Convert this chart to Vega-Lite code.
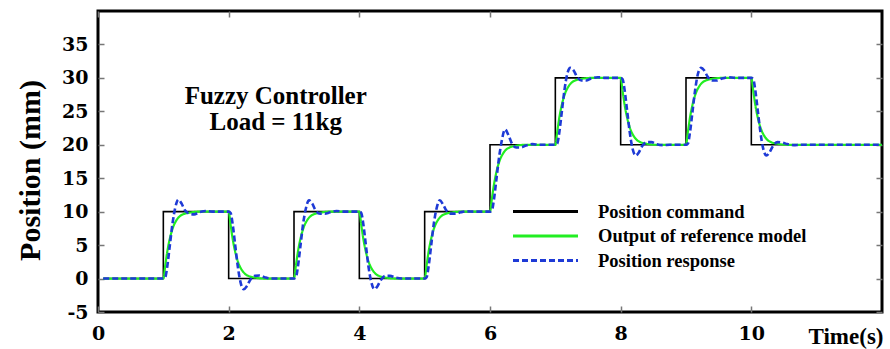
{
  "$schema": "https://vega.github.io/schema/vega-lite/v6.json",
  "width": 784,
  "height": 301,
  "autosize": {"type": "none"},
  "padding": {"left": 98, "top": 11, "right": 8, "bottom": 37},
  "background": "white",
  "config": {"view": {"stroke": "#000", "strokeWidth": 3}},
  "datasets": {
    "cmd": [
      {"t": 0.08, "v": 0, "series": "Position command"},
      {"t": 1, "v": 10, "series": "Position command"},
      {"t": 2, "v": 0, "series": "Position command"},
      {"t": 3, "v": 10, "series": "Position command"},
      {"t": 4, "v": 0, "series": "Position command"},
      {"t": 5, "v": 10, "series": "Position command"},
      {"t": 6, "v": 20, "series": "Position command"},
      {"t": 7, "v": 30, "series": "Position command"},
      {"t": 8, "v": 20, "series": "Position command"},
      {"t": 9, "v": 30, "series": "Position command"},
      {"t": 10, "v": 20, "series": "Position command"},
      {"t": 12, "v": 20, "series": "Position command"}
    ],
    "ref": [
      {"t": 0.08, "v": 0, "series": "Output of reference model"},
      {"t": 1, "v": 0, "series": "Output of reference model"},
      {"t": 1.03, "v": 2, "series": "Output of reference model"},
      {"t": 1.06, "v": 4, "series": "Output of reference model"},
      {"t": 1.1, "v": 6, "series": "Output of reference model"},
      {"t": 1.15, "v": 7.7, "series": "Output of reference model"},
      {"t": 1.2, "v": 8.7, "series": "Output of reference model"},
      {"t": 1.25, "v": 9.3, "series": "Output of reference model"},
      {"t": 1.3, "v": 9.6, "series": "Output of reference model"},
      {"t": 1.4, "v": 9.85, "series": "Output of reference model"},
      {"t": 1.55, "v": 10, "series": "Output of reference model"},
      {"t": 2, "v": 10, "series": "Output of reference model"},
      {"t": 2.03, "v": 8, "series": "Output of reference model"},
      {"t": 2.06, "v": 6, "series": "Output of reference model"},
      {"t": 2.1, "v": 4, "series": "Output of reference model"},
      {"t": 2.15, "v": 2.3, "series": "Output of reference model"},
      {"t": 2.2, "v": 1.3, "series": "Output of reference model"},
      {"t": 2.25, "v": 0.7, "series": "Output of reference model"},
      {"t": 2.3, "v": 0.4, "series": "Output of reference model"},
      {"t": 2.4, "v": 0.15, "series": "Output of reference model"},
      {"t": 2.55, "v": 0, "series": "Output of reference model"},
      {"t": 3, "v": 0, "series": "Output of reference model"},
      {"t": 3.03, "v": 2, "series": "Output of reference model"},
      {"t": 3.06, "v": 4, "series": "Output of reference model"},
      {"t": 3.1, "v": 6, "series": "Output of reference model"},
      {"t": 3.15, "v": 7.7, "series": "Output of reference model"},
      {"t": 3.2, "v": 8.7, "series": "Output of reference model"},
      {"t": 3.25, "v": 9.3, "series": "Output of reference model"},
      {"t": 3.3, "v": 9.6, "series": "Output of reference model"},
      {"t": 3.4, "v": 9.85, "series": "Output of reference model"},
      {"t": 3.55, "v": 10, "series": "Output of reference model"},
      {"t": 4, "v": 10, "series": "Output of reference model"},
      {"t": 4.03, "v": 8, "series": "Output of reference model"},
      {"t": 4.06, "v": 6, "series": "Output of reference model"},
      {"t": 4.1, "v": 4, "series": "Output of reference model"},
      {"t": 4.15, "v": 2.3, "series": "Output of reference model"},
      {"t": 4.2, "v": 1.3, "series": "Output of reference model"},
      {"t": 4.25, "v": 0.7, "series": "Output of reference model"},
      {"t": 4.3, "v": 0.4, "series": "Output of reference model"},
      {"t": 4.4, "v": 0.15, "series": "Output of reference model"},
      {"t": 4.55, "v": 0, "series": "Output of reference model"},
      {"t": 5, "v": 0, "series": "Output of reference model"},
      {"t": 5.03, "v": 2, "series": "Output of reference model"},
      {"t": 5.06, "v": 4, "series": "Output of reference model"},
      {"t": 5.1, "v": 6, "series": "Output of reference model"},
      {"t": 5.15, "v": 7.7, "series": "Output of reference model"},
      {"t": 5.2, "v": 8.7, "series": "Output of reference model"},
      {"t": 5.25, "v": 9.3, "series": "Output of reference model"},
      {"t": 5.3, "v": 9.6, "series": "Output of reference model"},
      {"t": 5.4, "v": 9.85, "series": "Output of reference model"},
      {"t": 5.55, "v": 10, "series": "Output of reference model"},
      {"t": 6, "v": 10, "series": "Output of reference model"},
      {"t": 6.03, "v": 12, "series": "Output of reference model"},
      {"t": 6.06, "v": 14, "series": "Output of reference model"},
      {"t": 6.1, "v": 16, "series": "Output of reference model"},
      {"t": 6.15, "v": 17.7, "series": "Output of reference model"},
      {"t": 6.2, "v": 18.7, "series": "Output of reference model"},
      {"t": 6.25, "v": 19.3, "series": "Output of reference model"},
      {"t": 6.3, "v": 19.6, "series": "Output of reference model"},
      {"t": 6.4, "v": 19.85, "series": "Output of reference model"},
      {"t": 6.55, "v": 20, "series": "Output of reference model"},
      {"t": 7, "v": 20, "series": "Output of reference model"},
      {"t": 7.03, "v": 22, "series": "Output of reference model"},
      {"t": 7.06, "v": 24, "series": "Output of reference model"},
      {"t": 7.1, "v": 26, "series": "Output of reference model"},
      {"t": 7.15, "v": 27.7, "series": "Output of reference model"},
      {"t": 7.2, "v": 28.7, "series": "Output of reference model"},
      {"t": 7.25, "v": 29.3, "series": "Output of reference model"},
      {"t": 7.3, "v": 29.6, "series": "Output of reference model"},
      {"t": 7.4, "v": 29.85, "series": "Output of reference model"},
      {"t": 7.55, "v": 30, "series": "Output of reference model"},
      {"t": 8, "v": 30, "series": "Output of reference model"},
      {"t": 8.03, "v": 28, "series": "Output of reference model"},
      {"t": 8.06, "v": 26, "series": "Output of reference model"},
      {"t": 8.1, "v": 24, "series": "Output of reference model"},
      {"t": 8.15, "v": 22.3, "series": "Output of reference model"},
      {"t": 8.2, "v": 21.3, "series": "Output of reference model"},
      {"t": 8.25, "v": 20.7, "series": "Output of reference model"},
      {"t": 8.3, "v": 20.4, "series": "Output of reference model"},
      {"t": 8.4, "v": 20.15, "series": "Output of reference model"},
      {"t": 8.55, "v": 20, "series": "Output of reference model"},
      {"t": 9, "v": 20, "series": "Output of reference model"},
      {"t": 9.03, "v": 22, "series": "Output of reference model"},
      {"t": 9.06, "v": 24, "series": "Output of reference model"},
      {"t": 9.1, "v": 26, "series": "Output of reference model"},
      {"t": 9.15, "v": 27.7, "series": "Output of reference model"},
      {"t": 9.2, "v": 28.7, "series": "Output of reference model"},
      {"t": 9.25, "v": 29.3, "series": "Output of reference model"},
      {"t": 9.3, "v": 29.6, "series": "Output of reference model"},
      {"t": 9.4, "v": 29.85, "series": "Output of reference model"},
      {"t": 9.55, "v": 30, "series": "Output of reference model"},
      {"t": 10, "v": 30, "series": "Output of reference model"},
      {"t": 10.03, "v": 28, "series": "Output of reference model"},
      {"t": 10.06, "v": 26, "series": "Output of reference model"},
      {"t": 10.1, "v": 24, "series": "Output of reference model"},
      {"t": 10.15, "v": 22.3, "series": "Output of reference model"},
      {"t": 10.2, "v": 21.3, "series": "Output of reference model"},
      {"t": 10.25, "v": 20.7, "series": "Output of reference model"},
      {"t": 10.3, "v": 20.4, "series": "Output of reference model"},
      {"t": 10.4, "v": 20.15, "series": "Output of reference model"},
      {"t": 10.55, "v": 20, "series": "Output of reference model"},
      {"t": 12, "v": 20, "series": "Output of reference model"}
    ],
    "resp": [
      {"t": 0.08, "v": 0, "series": "Position response"},
      {"t": 1, "v": 0, "series": "Position response"},
      {"t": 1.03, "v": 0.2, "series": "Position response"},
      {"t": 1.06, "v": 1.8, "series": "Position response"},
      {"t": 1.1, "v": 5, "series": "Position response"},
      {"t": 1.14, "v": 8.2, "series": "Position response"},
      {"t": 1.18, "v": 10.5, "series": "Position response"},
      {"t": 1.23, "v": 11.8, "series": "Position response"},
      {"t": 1.28, "v": 11.2, "series": "Position response"},
      {"t": 1.33, "v": 10.2, "series": "Position response"},
      {"t": 1.4, "v": 9.7, "series": "Position response"},
      {"t": 1.47, "v": 9.6, "series": "Position response"},
      {"t": 1.55, "v": 9.9, "series": "Position response"},
      {"t": 1.65, "v": 10.1, "series": "Position response"},
      {"t": 1.75, "v": 10, "series": "Position response"},
      {"t": 2, "v": 10, "series": "Position response"},
      {"t": 2.03, "v": 9.8, "series": "Position response"},
      {"t": 2.06, "v": 8.2, "series": "Position response"},
      {"t": 2.1, "v": 5, "series": "Position response"},
      {"t": 2.14, "v": 1.8, "series": "Position response"},
      {"t": 2.18, "v": -0.5, "series": "Position response"},
      {"t": 2.23, "v": -1.6, "series": "Position response"},
      {"t": 2.28, "v": -1.1, "series": "Position response"},
      {"t": 2.33, "v": -0.2, "series": "Position response"},
      {"t": 2.4, "v": 0.4, "series": "Position response"},
      {"t": 2.47, "v": 0.45, "series": "Position response"},
      {"t": 2.55, "v": 0.2, "series": "Position response"},
      {"t": 2.65, "v": 0, "series": "Position response"},
      {"t": 2.75, "v": 0, "series": "Position response"},
      {"t": 3, "v": 0, "series": "Position response"},
      {"t": 3.03, "v": 0.2, "series": "Position response"},
      {"t": 3.06, "v": 1.8, "series": "Position response"},
      {"t": 3.1, "v": 5, "series": "Position response"},
      {"t": 3.14, "v": 8.2, "series": "Position response"},
      {"t": 3.18, "v": 10.4, "series": "Position response"},
      {"t": 3.23, "v": 11.7, "series": "Position response"},
      {"t": 3.28, "v": 11.2, "series": "Position response"},
      {"t": 3.33, "v": 10.2, "series": "Position response"},
      {"t": 3.4, "v": 9.7, "series": "Position response"},
      {"t": 3.47, "v": 9.7, "series": "Position response"},
      {"t": 3.55, "v": 9.9, "series": "Position response"},
      {"t": 3.65, "v": 10.1, "series": "Position response"},
      {"t": 3.75, "v": 10, "series": "Position response"},
      {"t": 4, "v": 10, "series": "Position response"},
      {"t": 4.03, "v": 9.8, "series": "Position response"},
      {"t": 4.06, "v": 8.2, "series": "Position response"},
      {"t": 4.1, "v": 5, "series": "Position response"},
      {"t": 4.14, "v": 1.8, "series": "Position response"},
      {"t": 4.18, "v": -0.4, "series": "Position response"},
      {"t": 4.23, "v": -1.6, "series": "Position response"},
      {"t": 4.28, "v": -1.1, "series": "Position response"},
      {"t": 4.33, "v": -0.2, "series": "Position response"},
      {"t": 4.4, "v": 0.4, "series": "Position response"},
      {"t": 4.47, "v": 0.4, "series": "Position response"},
      {"t": 4.55, "v": 0.15, "series": "Position response"},
      {"t": 4.65, "v": 0, "series": "Position response"},
      {"t": 4.75, "v": 0, "series": "Position response"},
      {"t": 5, "v": 0, "series": "Position response"},
      {"t": 5.03, "v": 0.2, "series": "Position response"},
      {"t": 5.06, "v": 1.8, "series": "Position response"},
      {"t": 5.1, "v": 5, "series": "Position response"},
      {"t": 5.14, "v": 8.2, "series": "Position response"},
      {"t": 5.18, "v": 10.4, "series": "Position response"},
      {"t": 5.23, "v": 11.7, "series": "Position response"},
      {"t": 5.28, "v": 11.1, "series": "Position response"},
      {"t": 5.33, "v": 10.2, "series": "Position response"},
      {"t": 5.4, "v": 9.7, "series": "Position response"},
      {"t": 5.47, "v": 9.7, "series": "Position response"},
      {"t": 5.55, "v": 9.9, "series": "Position response"},
      {"t": 5.65, "v": 10.05, "series": "Position response"},
      {"t": 5.75, "v": 10, "series": "Position response"},
      {"t": 6, "v": 10, "series": "Position response"},
      {"t": 6.03, "v": 10.2, "series": "Position response"},
      {"t": 6.06, "v": 11.8, "series": "Position response"},
      {"t": 6.1, "v": 15, "series": "Position response"},
      {"t": 6.14, "v": 18.2, "series": "Position response"},
      {"t": 6.18, "v": 20.6, "series": "Position response"},
      {"t": 6.23, "v": 22.3, "series": "Position response"},
      {"t": 6.28, "v": 21.5, "series": "Position response"},
      {"t": 6.33, "v": 20.3, "series": "Position response"},
      {"t": 6.4, "v": 19.6, "series": "Position response"},
      {"t": 6.47, "v": 19.6, "series": "Position response"},
      {"t": 6.55, "v": 19.9, "series": "Position response"},
      {"t": 6.65, "v": 20.1, "series": "Position response"},
      {"t": 6.75, "v": 20, "series": "Position response"},
      {"t": 7, "v": 20, "series": "Position response"},
      {"t": 7.03, "v": 20.2, "series": "Position response"},
      {"t": 7.06, "v": 21.8, "series": "Position response"},
      {"t": 7.1, "v": 25, "series": "Position response"},
      {"t": 7.14, "v": 28.2, "series": "Position response"},
      {"t": 7.18, "v": 30.5, "series": "Position response"},
      {"t": 7.23, "v": 31.5, "series": "Position response"},
      {"t": 7.28, "v": 31.1, "series": "Position response"},
      {"t": 7.33, "v": 30.2, "series": "Position response"},
      {"t": 7.4, "v": 29.6, "series": "Position response"},
      {"t": 7.47, "v": 29.6, "series": "Position response"},
      {"t": 7.55, "v": 29.9, "series": "Position response"},
      {"t": 7.65, "v": 30.1, "series": "Position response"},
      {"t": 7.75, "v": 30, "series": "Position response"},
      {"t": 8, "v": 30, "series": "Position response"},
      {"t": 8.03, "v": 29.8, "series": "Position response"},
      {"t": 8.06, "v": 28.2, "series": "Position response"},
      {"t": 8.1, "v": 25, "series": "Position response"},
      {"t": 8.14, "v": 21.8, "series": "Position response"},
      {"t": 8.18, "v": 19.5, "series": "Position response"},
      {"t": 8.23, "v": 18.4, "series": "Position response"},
      {"t": 8.28, "v": 18.9, "series": "Position response"},
      {"t": 8.33, "v": 19.8, "series": "Position response"},
      {"t": 8.4, "v": 20.4, "series": "Position response"},
      {"t": 8.47, "v": 20.4, "series": "Position response"},
      {"t": 8.55, "v": 20.1, "series": "Position response"},
      {"t": 8.65, "v": 19.95, "series": "Position response"},
      {"t": 8.75, "v": 20, "series": "Position response"},
      {"t": 9, "v": 20, "series": "Position response"},
      {"t": 9.03, "v": 20.2, "series": "Position response"},
      {"t": 9.06, "v": 21.8, "series": "Position response"},
      {"t": 9.1, "v": 25, "series": "Position response"},
      {"t": 9.14, "v": 28.2, "series": "Position response"},
      {"t": 9.18, "v": 30.5, "series": "Position response"},
      {"t": 9.23, "v": 31.5, "series": "Position response"},
      {"t": 9.28, "v": 31.1, "series": "Position response"},
      {"t": 9.33, "v": 30.2, "series": "Position response"},
      {"t": 9.4, "v": 29.6, "series": "Position response"},
      {"t": 9.47, "v": 29.6, "series": "Position response"},
      {"t": 9.55, "v": 29.9, "series": "Position response"},
      {"t": 9.65, "v": 30.1, "series": "Position response"},
      {"t": 9.75, "v": 30, "series": "Position response"},
      {"t": 10, "v": 30, "series": "Position response"},
      {"t": 10.03, "v": 29.8, "series": "Position response"},
      {"t": 10.06, "v": 28.2, "series": "Position response"},
      {"t": 10.1, "v": 25, "series": "Position response"},
      {"t": 10.14, "v": 21.8, "series": "Position response"},
      {"t": 10.18, "v": 19.5, "series": "Position response"},
      {"t": 10.23, "v": 18.4, "series": "Position response"},
      {"t": 10.28, "v": 18.9, "series": "Position response"},
      {"t": 10.33, "v": 19.8, "series": "Position response"},
      {"t": 10.4, "v": 20.4, "series": "Position response"},
      {"t": 10.47, "v": 20.35, "series": "Position response"},
      {"t": 10.55, "v": 20.1, "series": "Position response"},
      {"t": 10.65, "v": 19.95, "series": "Position response"},
      {"t": 10.75, "v": 20, "series": "Position response"},
      {"t": 12, "v": 20, "series": "Position response"}
    ],
    "notes": [
      {"t": 2.72, "v": 27.3, "label": "Fuzzy Controller"},
      {"t": 2.72, "v": 23.4, "label": "Load = 11kg"}
    ]
  },
  "resolve": {"axis": {"x": "independent", "y": "independent"}},
  "layer": [
    {
      "data": {"name": "cmd"},
      "mark": {"type": "line", "interpolate": "step-after", "strokeWidth": 1.6},
      "encoding": {
        "x": {
          "field": "t", "type": "quantitative",
          "scale": {"domain": [0, 12], "nice": false, "zero": false},
          "axis": {
            "orient": "bottom", "values": [0, 2, 4, 6, 8, 10], "grid": false, "domain": false,
            "tickSize": -6, "tickColor": "#777", "tickWidth": 1.5,
            "labelFont": "DejaVu Serif", "labelFontWeight": "bold", "labelFontSize": 19, "labelColor": "#000",
            "labelPadding": 18, "labelFlush": false,
            "title": "Time(s)", "titleFont": "Liberation Serif", "titleFontWeight": "bold", "titleFontSize": 23,
            "titleColor": "#000", "titleX": 785, "titleY": 31, "titleAlign": "right", "titleBaseline": "alphabetic"
          }
        },
        "y": {
          "field": "v", "type": "quantitative",
          "scale": {"domain": [-5, 40], "nice": false, "zero": false},
          "axis": {
            "orient": "left", "values": [-5, 0, 5, 10, 15, 20, 25, 30, 35], "grid": false, "domain": false,
            "tickSize": -6, "tickColor": "#777", "tickWidth": 1.5,
            "labelFont": "DejaVu Serif", "labelFontWeight": "bold", "labelFontSize": 19, "labelColor": "#000",
            "labelPadding": 16, "labelFlush": false,
            "labelExpr": "replace(datum.label, '\u2212', '-')",
            "title": "Position (mm)", "titleFont": "Liberation Serif", "titleFontWeight": "bold", "titleFontSize": 30,
            "titleColor": "#000", "titleX": -68, "titleY": 159, "titleAngle": -90, "titleAlign": "center", "titleBaseline": "middle"
          }
        },
        "color": {
          "field": "series", "type": "nominal",
          "scale": {"domain": ["Position command", "Output of reference model", "Position response"], "range": ["#000000", "#22ee22", "#1e3ad6"]},
          "legend": {
            "orient": "none", "legendX": 436, "legendY": 189, "title": null,
            "symbolType": "M-3.25,0H3.25", "symbolSize": 400, "symbolStrokeWidth": 3,
            "labelFont": "Liberation Serif", "labelFontWeight": "bold", "labelFontSize": 18.5, "labelColor": "#000",
            "labelOffset": 41, "labelLimit": 400, "rowPadding": 3.5
          }
        },
        "strokeDash": {
          "field": "series", "type": "nominal",
          "scale": {"domain": ["Position command", "Output of reference model", "Position response"], "range": [[1, 0], [1, 0], [6, 3]]}
        }
      }
    },
    {
      "data": {"name": "ref"},
      "mark": {"type": "line", "interpolate": "monotone", "strokeWidth": 2.2},
      "encoding": {
        "x": {"field": "t", "type": "quantitative", "axis": null},
        "y": {"field": "v", "type": "quantitative", "axis": null},
        "color": {"field": "series", "type": "nominal"},
        "strokeDash": {"field": "series", "type": "nominal"}
      }
    },
    {
      "data": {"name": "resp"},
      "mark": {"type": "line", "interpolate": "monotone", "strokeWidth": 2.6},
      "encoding": {
        "x": {
          "field": "t", "type": "quantitative",
          "axis": {"orient": "top", "values": [0, 2, 4, 6, 8, 10], "labels": false, "domain": false, "grid": false,
                   "tickSize": -6, "tickColor": "#777", "tickWidth": 1.5, "title": null}
        },
        "y": {
          "field": "v", "type": "quantitative",
          "axis": {"orient": "right", "values": [-5, 0, 5, 10, 15, 20, 25, 30, 35], "labels": false, "domain": false, "grid": false,
                   "tickSize": -6, "tickColor": "#777", "tickWidth": 1.5, "title": null}
        },
        "color": {"field": "series", "type": "nominal"},
        "strokeDash": {"field": "series", "type": "nominal"}
      }
    },
    {
      "data": {"name": "notes"},
      "mark": {"type": "text", "font": "Liberation Serif", "fontWeight": "bold", "fontSize": 25, "align": "center", "baseline": "middle", "color": "#000"},
      "encoding": {
        "x": {"field": "t", "type": "quantitative", "axis": null},
        "y": {"field": "v", "type": "quantitative", "axis": null},
        "text": {"field": "label", "type": "nominal"}
      }
    }
  ]
}
